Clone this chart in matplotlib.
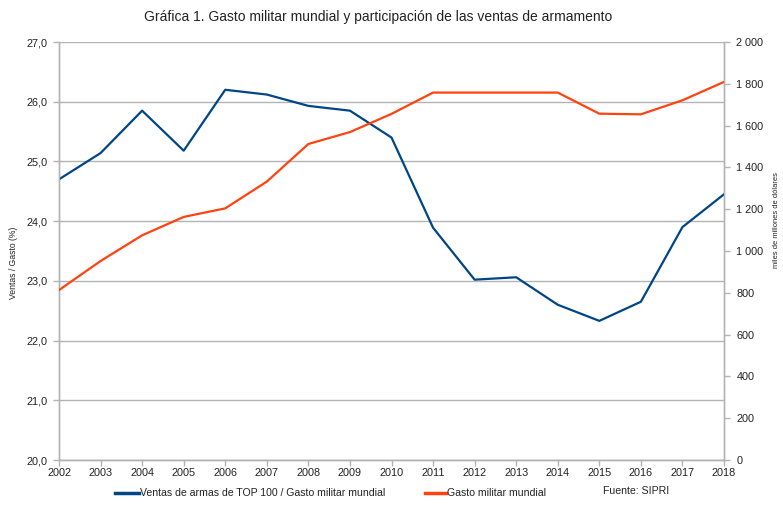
import matplotlib
matplotlib.use("Agg")
import matplotlib.pyplot as plt
from matplotlib.lines import Line2D
from matplotlib.ticker import FuncFormatter

plt.rcParams['font.family'] = ['Liberation Sans', 'DejaVu Sans']

years = list(range(2002, 2019))
ventas_ratio = [24.70, 25.14, 25.85, 25.18, 26.20, 26.12, 25.93, 25.85, 25.40,
                23.89, 23.02, 23.06, 22.60, 22.33, 22.65, 23.90, 24.45]
gasto = [813, 952, 1075, 1163, 1204, 1332, 1512, 1569, 1656,
         1758, 1758, 1758, 1758, 1657, 1654, 1721, 1809]

title = "Gráfica 1. Gasto militar mundial y participación de las ventas de armamento"
label_blue = "Ventas de armas de TOP 100 / Gasto militar mundial"
label_orange = "Gasto militar mundial"
source = "Fuente: SIPRI"
ylabel_left = "Ventas / Gasto (%)"
ylabel_right = "miles de millones de dólares"

BLUE = "#004586"
ORANGE = "#ff420e"
GRID = "#b3b3b3"
TXT = "#222222"
W, H = 783, 505

fig = plt.figure(figsize=(7.83, 5.05), dpi=100)
ax = fig.add_axes([59/W, (H-460)/H, (724-59)/W, (460-42)/H])
ax2 = ax.twinx()

ax.plot(years, ventas_ratio, color=BLUE, lw=1.6, zorder=3)
ax2.plot(years, gasto, color=ORANGE, lw=1.6, zorder=3)

ax.set_xlim(2002, 2018)
ax.set_ylim(20, 27)
ax2.set_ylim(0, 2000)
ax.set_xticks(years)
ax.set_yticks([20, 21, 22, 23, 24, 25, 26, 27])
ax2.set_yticks(range(0, 2001, 200))
ax.yaxis.set_major_formatter(FuncFormatter(lambda v, p: f"{v:.1f}".replace(".", ",")))
ax2.yaxis.set_major_formatter(FuncFormatter(lambda v, p: f"{int(v):,}".replace(",", " ")))

ax.grid(axis='y', color=GRID, lw=1)
ax.set_axisbelow(True)
for a in (ax, ax2):
    for s in a.spines.values():
        s.set_color(GRID)
        s.set_linewidth(1)
    a.spines['top'].set_visible(False)
    a.tick_params(colors=GRID, labelcolor=TXT, labelsize=7.8, length=4, width=1)
ax.tick_params(axis='x', pad=2)
ax.tick_params(axis='y', pad=4)
ax2.tick_params(axis='y', pad=5)

fig.text(13/W, 1 - 263/H, ylabel_left, rotation=90, ha='center', va='center', fontsize=6.2, color=TXT)
fig.text(777/W, 1 - 220/H, ylabel_right, rotation=90, ha='center', va='center', fontsize=5.4, color=TXT)

fig.text(378/W, 1 - 17/H, title, ha='center', va='center', fontsize=10, color=TXT)

ly = 1 - 493/H
fig.add_artist(Line2D([115/W, 139/W], [ly, ly], color=BLUE, lw=2.5, transform=fig.transFigure))
fig.text(140/W, ly, label_blue, ha='left', va='center', fontsize=7.6, color=TXT)
fig.add_artist(Line2D([425/W, 446/W], [ly, ly], color=ORANGE, lw=2.5, transform=fig.transFigure))
fig.text(447/W, ly, label_orange, ha='left', va='center', fontsize=7.6, color=TXT)
fig.text(603/W, ly + 0.003, source, ha='left', va='center', fontsize=7.6, color=TXT)

fig.savefig("out.png", dpi=100)
